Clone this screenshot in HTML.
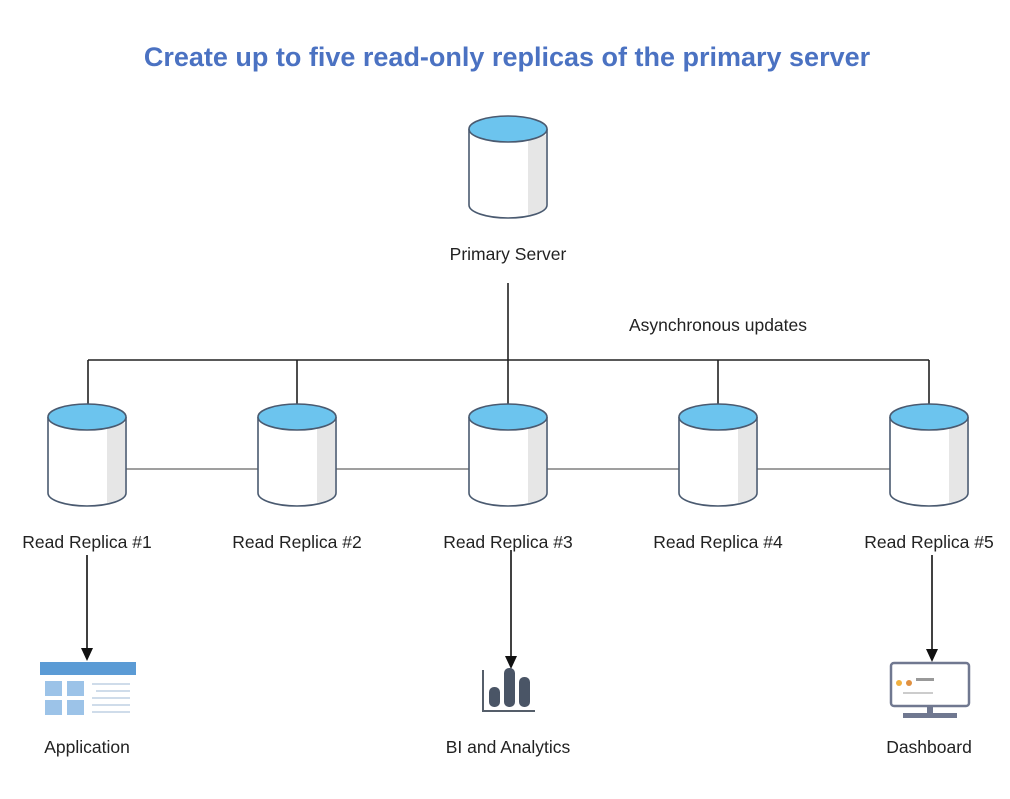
<!DOCTYPE html>
<html><head><style>
body{margin:0;background:#fff;width:1010px;height:794px;overflow:hidden;font-family:"Liberation Sans",sans-serif}
</style></head><body>
<svg width="1010" height="794" xmlns="http://www.w3.org/2000/svg">
<defs>
<g id="cyl">
<path d="M-39,0 L-39,76 A39,13 0 0 0 39,76 L39,0" fill="#fff"/>
<path d="M20,10 L38,6 L38,78 A39,13 0 0 1 20,86 Z" fill="#e6e6e6"/>
<path d="M-39,0 L-39,76 A39,13 0 0 0 39,76 L39,0" fill="none" stroke="#4a5a70" stroke-width="1.6"/>
<ellipse cx="0" cy="0" rx="39" ry="13" fill="#6cc4ee" stroke="#4a5a70" stroke-width="1.6"/>
</g>
</defs>
<text x="507" y="66" text-anchor="middle" font-size="27" font-weight="bold" fill="#4b72c2">Create up to five read-only replicas of the primary server</text>
<g stroke="#222" stroke-width="1.6" fill="none">
<line x1="508" y1="283" x2="508" y2="404"/>
<line x1="88" y1="360" x2="929" y2="360"/>
<line x1="88" y1="360" x2="88" y2="404"/>
<line x1="297" y1="360" x2="297" y2="404"/>
<line x1="718" y1="360" x2="718" y2="404"/>
<line x1="929" y1="360" x2="929" y2="404"/>
<line x1="126" y1="469" x2="890" y2="469" stroke="#666" stroke-width="1.2"/>
</g>
<use href="#cyl" x="508" y="129"/>
<use href="#cyl" x="87" y="417"/>
<use href="#cyl" x="297" y="417"/>
<use href="#cyl" x="508" y="417"/>
<use href="#cyl" x="718" y="417"/>
<use href="#cyl" x="929" y="417"/>
<g font-size="17.5" fill="#222" text-anchor="middle">
<text x="508" y="260">Primary Server</text>
<text x="718" y="331">Asynchronous updates</text>
<text x="87" y="548">Read Replica #1</text>
<text x="297" y="548">Read Replica #2</text>
<text x="508" y="548">Read Replica #3</text>
<text x="718" y="548">Read Replica #4</text>
<text x="929" y="548">Read Replica #5</text>
<text x="87" y="753">Application</text>
<text x="508" y="753">BI and Analytics</text>
<text x="929" y="753">Dashboard</text>
</g>
<g stroke="#111" stroke-width="1.6">
<line x1="87" y1="555" x2="87" y2="650"/>
<line x1="511" y1="550" x2="511" y2="658"/>
<line x1="932" y1="555" x2="932" y2="651"/>
</g>
<g fill="#111">
<polygon points="81,648 93,648 87,661"/>
<polygon points="505,656 517,656 511,669"/>
<polygon points="926,649 938,649 932,662"/>
</g>
<!-- application icon -->
<rect x="40" y="662" width="96" height="13" fill="#5b9bd5"/>
<rect x="45" y="681" width="17" height="15" fill="#9cc3e8"/>
<rect x="67" y="681" width="17" height="15" fill="#9cc3e8"/>
<rect x="45" y="700" width="17" height="15" fill="#9cc3e8"/>
<rect x="67" y="700" width="17" height="15" fill="#9cc3e8"/>
<g stroke="#cfdcea" stroke-width="2"><line x1="92" y1="684" x2="130" y2="684"/><line x1="96" y1="691" x2="130" y2="691"/><line x1="92" y1="698" x2="130" y2="698"/><line x1="92" y1="705" x2="130" y2="705"/><line x1="92" y1="712" x2="130" y2="712"/></g>
<!-- BI icon -->
<path d="M483,670 L483,711 L535,711" stroke="#555e6a" stroke-width="2" fill="none"/>
<rect x="489" y="687" width="11" height="20" rx="5" fill="#4a5566"/>
<rect x="504" y="668" width="11" height="39" rx="5" fill="#4a5566"/>
<rect x="519" y="677" width="11" height="30" rx="5" fill="#4a5566"/>
<!-- dashboard icon -->
<rect x="891" y="663" width="78" height="43" rx="3" fill="#fff" stroke="#707890" stroke-width="2.5"/>
<rect x="927" y="706" width="6" height="7" fill="#707890"/>
<rect x="903" y="713" width="54" height="5" fill="#707890"/>
<circle cx="899" cy="683" r="3" fill="#f0b040"/><circle cx="909" cy="683" r="3" fill="#e09040"/>
<rect x="916" y="678" width="18" height="3" fill="#999"/><rect x="903" y="692" width="30" height="2" fill="#ccc"/>
</svg>
</body></html>
